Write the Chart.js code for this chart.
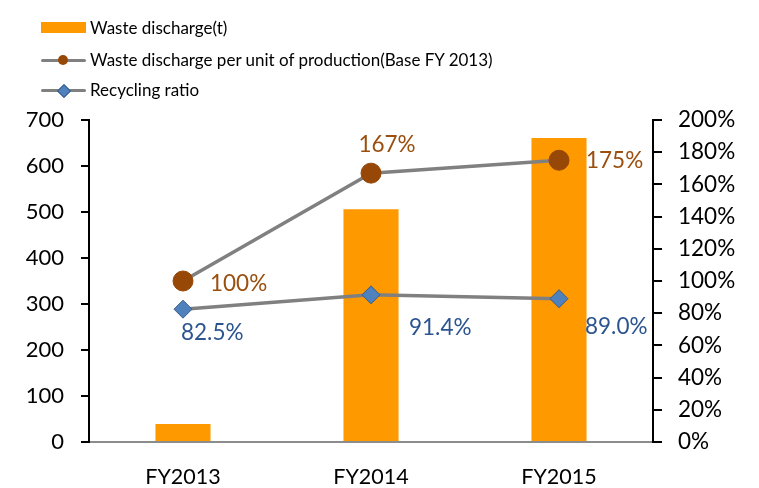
<!DOCTYPE html>
<html>
<head>
<meta charset="utf-8">
<script src="https://cdn.jsdelivr.net/npm/chart.js@4"></script>
<style>
  body { margin: 0; background: #fff; }
  #wrap { position: relative; width: 759px; height: 488px; }
  #legend { position: absolute; left: 0; top: 0; font-family: Lato, sans-serif; font-size: 17px; color: #000; }
  .item { position: absolute; left: 41px; white-space: nowrap; height: 20px; }
  .sym { position: absolute; left: 0; top: 0; width: 46px; height: 20px; }
  .txt { position: absolute; left: 49px; top: 0; line-height: 20px; }
</style>
</head>
<body>
<div id="wrap">
  <canvas id="myChart" width="759" height="488"></canvas>
  <div id="legend"></div>
</div>
<script>
const ctx = document.getElementById("myChart");
const legendBox = document.querySelector("#legend");

const years = ["FY2013", "FY2014", "FY2015"];
const wasteTons = [39, 506, 661];
const perUnit = [100, 167, 175];
const recycling = [82.5, 91.4, 89.0];
const perUnitLabels = ["100%", "167%", "175%"];
const recyclingLabels = ["82.5%", "91.4%", "89.0%"];
const leftTicks = [0, 700, 100];
const rightTicks = [0, 200, 20];

const fontName = "Lato";

// where each value label sits relative to its point
const labelOffsets = {
  1: [[27, 3, "left"], [16, -28, "center"], [27, 0, "left"]],
  2: [[-2, 24, "left"], [38, 33, "left"], [26, 28, "left"]],
};
const labelTexts = { 1: perUnitLabels, 2: recyclingLabels };

const valueLabels = {
  id: "valueLabels",
  afterDatasetsDraw(chart) {
    const c = chart.ctx;
    c.save();
    c.font = "22.5px " + fontName;
    c.textBaseline = "middle";
    [1, 2].forEach((di) => {
      const meta = chart.getDatasetMeta(di);
      c.fillStyle = di == 1 ? "#9a4f0e" : "#2c5590";
      meta.data.forEach((pt, i) => {
        const off = labelOffsets[di][i];
        c.textAlign = off[2];
        c.fillText(labelTexts[di][i], pt.x + off[0], pt.y + off[1]);
      });
    });
    c.restore();
  },
};

const chart = new Chart(ctx, {
  type: "bar",
  data: {
    labels: years,
    datasets: [
      {
        label: "Waste discharge(t)",
        data: wasteTons,
        backgroundColor: "#ff9900",
        yAxisID: "y",
        barPercentage: 0.293,
        categoryPercentage: 1,
        order: 3,
      },
      {
        type: "line",
        label: "Waste discharge per unit of production(Base FY 2013)",
        data: perUnit,
        yAxisID: "y1",
        borderColor: "#808080",
        borderWidth: 3.5,
        pointStyle: "circle",
        pointRadius: 10,
        pointBackgroundColor: "#974706",
        pointBorderColor: "#974706",
        pointBorderWidth: 1,
        order: 1,
      },
      {
        type: "line",
        label: "Recycling ratio",
        data: recycling,
        yAxisID: "y1",
        borderColor: "#808080",
        borderWidth: 3.5,
        pointStyle: "rectRot",
        pointRadius: 9,
        pointBackgroundColor: "#4f81bd",
        pointBorderColor: "#385d8a",
        pointBorderWidth: 1,
        order: 2,
      },
    ],
  },
  options: {
    responsive: false,
    animation: false,
    layout: { padding: { top: 120, left: 0, right: 0, bottom: 0 } },
    plugins: {
      legend: { display: false },
      tooltip: { enabled: false },
    },
    scales: {
      x: {
        grid: { display: false },
        border: { color: "#8c8c8c", width: 2 },
        ticks: { color: "#000", font: { family: fontName, size: 21.5 }, padding: 14 },
        afterFit: function (scale) { scale.height = 46; },
      },
      y: {
        position: "left",
        min: leftTicks[0],
        max: leftTicks[1],
        ticks: { stepSize: leftTicks[2], color: "#000", font: { family: fontName, size: 22 }, padding: 17 },
        grid: { drawOnChartArea: false, drawTicks: true, tickLength: 8, color: "#000", lineWidth: 2 },
        border: { color: "#000", width: 2 },
        afterFit: function (scale) { scale.width = 89; },
      },
      y1: {
        position: "right",
        min: rightTicks[0],
        max: rightTicks[1],
        ticks: {
          stepSize: rightTicks[2],
          color: "#000",
          font: { family: fontName, size: 22.5 },
          padding: 16,
          callback: function (v) { return v + "%"; },
        },
        grid: { drawOnChartArea: false, drawTicks: true, tickLength: 9, color: "#000", lineWidth: 2 },
        border: { color: "#000", width: 2 },
        afterFit: function (scale) { scale.width = 106; },
      },
    },
  },
  plugins: [valueLabels],
});

// legend, one item per row like the original
const legendRows = [
  { top: 18, kind: "bar", text: chart.data.datasets[0].label },
  { top: 50, kind: "circle", text: chart.data.datasets[1].label },
  { top: 80, kind: "diamond", text: chart.data.datasets[2].label },
];
legendRows.forEach((r) => {
  const item = document.createElement("div");
  item.className = "item";
  item.style.top = r.top + "px";
  let sym = "";
  if (r.kind == "bar") {
    sym = '<div class="sym"><div style="position:absolute;left:0;top:4px;width:45px;height:11px;background:#ff9900"></div></div>';
  } else {
    const mark = r.kind == "circle"
      ? '<div style="position:absolute;left:17px;top:5px;width:10px;height:10px;border-radius:50%;background:#974706"></div>'
      : '<div style="position:absolute;left:18px;top:6px;width:8px;height:8px;transform:rotate(45deg);background:#4f81bd;border:1px solid #385d8a"></div>';
    sym = '<div class="sym"><div style="position:absolute;left:0;top:9px;width:45px;height:3px;background:#808080;border-radius:2px"></div>' + mark + "</div>";
  }
  item.innerHTML = sym + '<span class="txt">' + r.text + "</span>";
  legendBox.appendChild(item);
});
</script>
</body>
</html>
